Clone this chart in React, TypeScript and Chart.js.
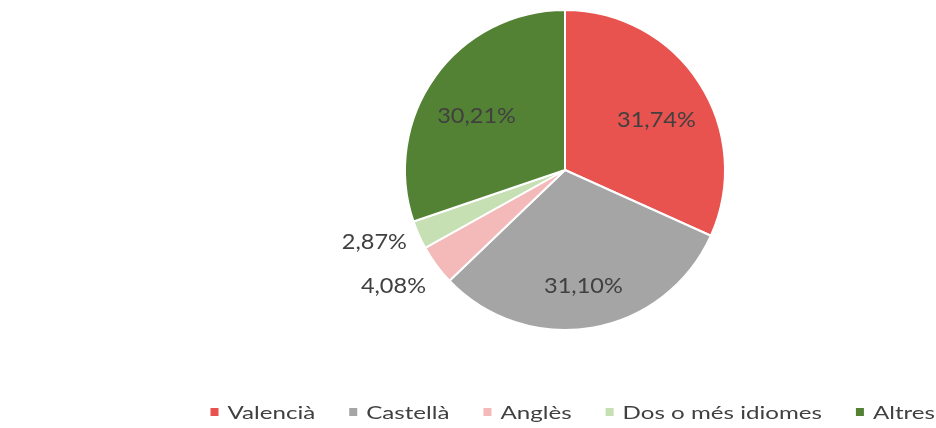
import React, { useEffect, useRef } from "react";
import { Chart, registerables } from "chart.js";

Chart.register(...registerables);

const categories = ["Valencià", "Castellà", "Anglès", "Dos o més idiomes", "Altres"];
const values = [31.74, 31.1, 4.08, 2.87, 30.21];
const valueLabels = ["31,74%", "31,10%", "4,08%", "2,87%", "30,21%"];
const colors = ["#E8524F", "#A5A5A5", "#F4B9B9", "#C6E0B4", "#548235"];

const FONT = "Lato, 'Open Sans', sans-serif";
const TEXT = "#404040";

// draw text horizontally stretched, vertically centred on its glyph box
function drawText(ctx: any, text: string, x: number, y: number, align: string, sx: number) {
  const m = ctx.measureText(text);
  const w = m.width * sx;
  const asc = m.actualBoundingBoxAscent;
  const desc = m.actualBoundingBoxDescent;
  let left = x;
  if (align === "center") left = x - w / 2;
  else if (align === "right") left = x - w;
  ctx.save();
  ctx.translate(left, y + (asc - desc) / 2);
  ctx.scale(sx, 1);
  ctx.textAlign = "left";
  ctx.textBaseline = "alphabetic";
  ctx.fillText(text, 0, 0);
  ctx.restore();
  return w;
}

const labelPlugin = {
  id: "sliceLabels",
  afterDatasetsDraw(chart: any) {
    const ctx = chart.ctx;
    const meta = chart.getDatasetMeta(0);
    ctx.save();
    ctx.font = `21px ${FONT}`;
    ctx.fillStyle = TEXT;
    let lastOutsideY = -Infinity;
    meta.data.forEach((arc: any, i: number) => {
      const { x, y, startAngle, endAngle, outerRadius } = arc.getProps(
        ["x", "y", "startAngle", "endAngle", "outerRadius"],
        true
      );
      const mid = (startAngle + endAngle) / 2;
      const frac = values[i] / 100;
      if (frac > 0.1) {
        const r = outerRadius * 0.68;
        drawText(ctx, valueLabels[i], x + Math.cos(mid) * r, y + Math.sin(mid) * r + 10, "center", 1.12);
      } else {
        const r = outerRadius + 14;
        let ly = y + Math.sin(mid) * r + 14;
        const lx = x + Math.cos(mid) * r + 1;
        if (Math.abs(ly - lastOutsideY) < 44) {
          ly = lastOutsideY + (ly < lastOutsideY ? -44 : 44);
        }
        lastOutsideY = ly;
        drawText(ctx, valueLabels[i], lx, ly, Math.cos(mid) < 0 ? "right" : "left", 1.12);
      }
    });
    ctx.restore();
  },
};

const legendPlugin = {
  id: "customLegend",
  afterDraw(chart: any) {
    const ctx = chart.ctx;
    ctx.save();
    ctx.font = `18px ${FONT}`;
    const sx = 1.34;
    const box = 8;
    const boxGap = 9;
    const itemGap = 34;
    const widths = categories.map((c) => ctx.measureText(c).width * sx);
    const total =
      widths.reduce((a, b) => a + b, 0) + categories.length * (box + boxGap) + (categories.length - 1) * itemGap;
    let x = chart.width - 1 - total;
    const y = 412;
    categories.forEach((c, i) => {
      ctx.fillStyle = colors[i];
      ctx.fillRect(x, y - box / 2, box, box);
      x += box + boxGap;
      ctx.fillStyle = TEXT;
      const m = ctx.measureText("V");
      ctx.save();
      ctx.translate(x, y + m.actualBoundingBoxAscent / 2);
      ctx.scale(sx, 1);
      ctx.textAlign = "left";
      ctx.textBaseline = "alphabetic";
      ctx.fillText(c, 0, 0);
      ctx.restore();
      x += widths[i] + itemGap;
    });
    ctx.restore();
  },
};

export default function App() {
  const ref = useRef<HTMLCanvasElement>(null);
  useEffect(() => {
    if (!ref.current) return;
    const chart = new Chart(ref.current, {
      type: "pie",
      data: {
        labels: categories,
        datasets: [
          {
            data: values,
            backgroundColor: colors,
            borderColor: "#ffffff",
            borderWidth: 2,
          },
        ],
      },
      options: {
        animation: false,
        responsive: false,
        maintainAspectRatio: false,
        layout: { padding: { top: 9, bottom: 97, left: 404, right: 210 } },
        plugins: { legend: { display: false }, tooltip: { enabled: false } },
      },
      plugins: [labelPlugin, legendPlugin],
    });
    return () => chart.destroy();
  }, []);
  return (
    <div style={{ position: "fixed", left: 0, top: 0, width: 936, height: 428, background: "#fff" }}>
      <canvas ref={ref} width={936} height={428} style={{ width: 936, height: 428 }} />
    </div>
  );
}
